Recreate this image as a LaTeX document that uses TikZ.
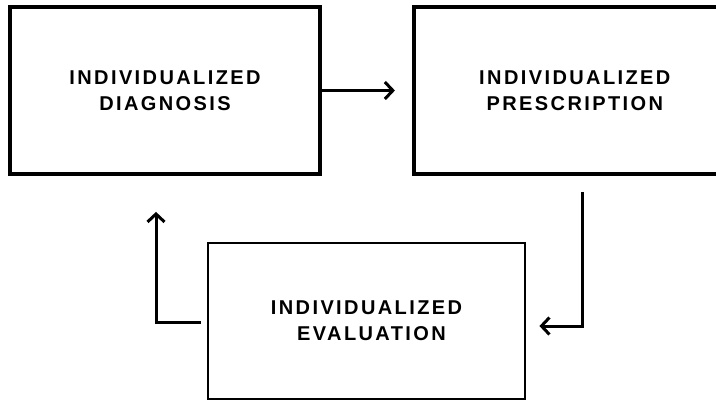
\documentclass[tikz,border=0pt]{standalone}
\usepackage{fontspec}
\usepackage{tikz}
\usetikzlibrary{positioning,arrows.meta}
\newfontfamily\boxfont[LetterSpace=12]{Liberation Sans Bold}

\begin{document}
\begin{tikzpicture}[x=1bp, y=-1bp, >={Straight Barb[length=8bp,width=17bp]},
    stage/.style={draw, line width=3.8bp, minimum height=167bp, align=center,
      inner sep=0pt, font=\boxfont\fontsize{20bp}{26bp}\selectfont},
    loop/.style={->, line width=3bp}]
      \clip (0,0) rectangle (716,400);
      \node [stage, minimum width=310bp] (diag) at (165,90.5) {INDIVIDUALIZED\\DIAGNOSIS};
      \node [stage, minimum width=322bp] (presc) [right=90bp of diag] {INDIVIDUALIZED\\PRESCRIPTION};
      \node [stage, line width=2.8bp, minimum width=317bp, minimum height=156bp] (eval) at (366.5,321)
        {INDIVIDUALIZED\\\hspace*{10bp}EVALUATION};
      \draw [loop, shorten >=17bp] (diag.east) -- (presc.west);
      \draw [loop, shorten <=16bp, shorten >=13bp] ([xshift=8bp]presc.south) |- ([yshift=-5bp]eval.east);
      \draw [loop, shorten <=6bp, shorten >=36bp] ([yshift=-1bp]eval.west) -| ([xshift=-9bp]diag.south);
\end{tikzpicture}
\end{document}
